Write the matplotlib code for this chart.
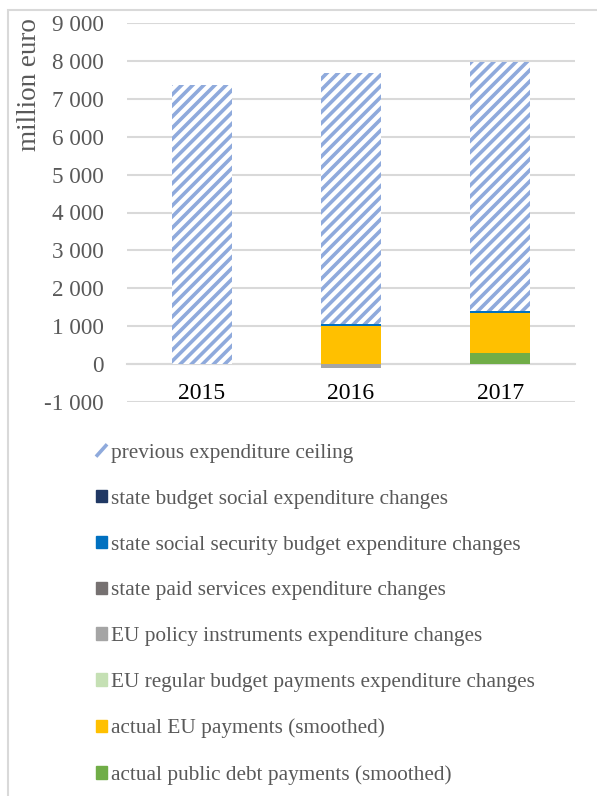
import matplotlib
matplotlib.use("Agg")
import matplotlib.pyplot as plt
from matplotlib.patches import Patch, Rectangle
from matplotlib.lines import Line2D
from matplotlib.legend_handler import HandlerBase
from matplotlib.ticker import FuncFormatter

years = ["2015", "2016", "2017"]

series_names = [
    "previous expenditure ceiling",
    "state budget social expenditure changes",
    "state social security budget expenditure changes",
    "state paid services expenditure changes",
    "EU policy instruments expenditure changes",
    "EU regular budget payments expenditure changes",
    "actual EU payments (smoothed)",
    "actual public debt payments (smoothed)",
]

prev_ceiling = [7360, 6620, 6580]
state_budget_social = [0, 0, 0]
state_social_security = [0, 40, 40]
state_paid_services = [0, 0, 0]
eu_policy_instruments = [0, -100, 0]
eu_regular_budget = [0, 0, 0]
actual_eu_payments = [0, 1010, 1060]
actual_public_debt = [0, 0, 300]

colors = {
    "hatch": "#8FAADC",
    "state_budget_social": "#203864",
    "state_social_security": "#0070C0",
    "state_paid_services": "#767171",
    "eu_policy_instruments": "#A5A5A5",
    "eu_regular_budget": "#C5E0B4",
    "actual_eu_payments": "#FFC000",
    "actual_public_debt": "#70AD47",
}

plt.rcParams["font.family"] = ["Liberation Serif", "DejaVu Serif"]
plt.rcParams["hatch.linewidth"] = 2.6

text_color = "#595959"
grid_color = "#D9D9D9"


class HatchStrokeHandler(HandlerBase):
    """Legend key drawn as a single diagonal stroke of the hatch colour."""

    def create_artists(self, legend, orig_handle, xdescent, ydescent,
                       width, height, fontsize, trans):
        line = Line2D([-xdescent, -xdescent + width], [-ydescent, -ydescent + height],
                      color=orig_handle.get_edgecolor(), linewidth=2.6,
                      solid_capstyle="butt", transform=trans)
        return [line]


fig = plt.figure(figsize=(5.97, 7.96), dpi=100)
W, H = 597, 796
ax = fig.add_axes([127 / W, 1 - 402 / H, 448 / W, 379 / H])

x = list(range(len(years)))
width = 0.4

# Stack order from the bottom: debt, EU payments, budget changes, ceiling
stack = [
    (actual_public_debt, colors["actual_public_debt"]),
    (actual_eu_payments, colors["actual_eu_payments"]),
    (eu_regular_budget, colors["eu_regular_budget"]),
    (state_paid_services, colors["state_paid_services"]),
    (state_budget_social, colors["state_budget_social"]),
    (state_social_security, colors["state_social_security"]),
]
pos_base = [0.0] * len(years)
neg_base = [0.0] * len(years)
for vals, col in stack + [(eu_policy_instruments, colors["eu_policy_instruments"])]:
    bottoms = []
    for i, v in enumerate(vals):
        if v >= 0:
            bottoms.append(pos_base[i])
            pos_base[i] += v
        else:
            bottoms.append(neg_base[i])
            neg_base[i] += v
    ax.bar(x, vals, width, bottom=bottoms, color=col, linewidth=0, zorder=3)

ax.bar(x, prev_ceiling, width, bottom=pos_base, facecolor="white",
       edgecolor=colors["hatch"], hatch="///", linewidth=0, zorder=3)

ax.set_xlim(-0.5, 2.5)
ax.set_ylim(-1000, 9000)
ax.set_yticks(range(-1000, 9001, 1000))
ax.yaxis.set_major_formatter(FuncFormatter(lambda v, p: f"{int(v):,}".replace(",", " ")))
ax.grid(axis="y", color=grid_color, linewidth=1.5, zorder=0)
ax.set_axisbelow(True)

for s in ["top", "right", "left"]:
    ax.spines[s].set_visible(False)
ax.spines["bottom"].set_position(("data", 0))
ax.spines["bottom"].set_color(grid_color)
ax.spines["bottom"].set_linewidth(1.5)

ax.set_xticks(x)
ax.set_xticklabels(years)
ax.tick_params(axis="x", length=0, pad=13.5, labelsize=17, labelcolor="black")
ax.tick_params(axis="y", length=0, pad=17, labelsize=16.7, labelcolor=text_color)

fig.text(30 / W, 1 - 85 / H, "million euro", rotation=90, ha="center", va="center",
         fontsize=19.5, color=text_color)

ceiling_key = Patch(facecolor="white", edgecolor=colors["hatch"], linewidth=0)
handles = [
    ceiling_key,
    Patch(color=colors["state_budget_social"]),
    Patch(color=colors["state_social_security"]),
    Patch(color=colors["state_paid_services"]),
    Patch(color=colors["eu_policy_instruments"]),
    Patch(color=colors["eu_regular_budget"]),
    Patch(color=colors["actual_eu_payments"]),
    Patch(color=colors["actual_public_debt"]),
]
leg = fig.legend(handles, series_names, loc="upper left",
                 bbox_to_anchor=(96 / W, 1 - 444 / H), frameon=False,
                 fontsize=15.3, labelcolor=text_color, handlelength=0.52,
                 handleheight=0.52, handletextpad=0.2, labelspacing=1.26,
                 borderaxespad=0, borderpad=0,
                 handler_map={ceiling_key: HatchStrokeHandler()})

# Chart frame
fig.patches.append(Rectangle((8 / W, -0.01), 1.0, 1 - 10 / H + 0.01,
                             transform=fig.transFigure, fill=False,
                             edgecolor=grid_color, linewidth=1.5))

fig.savefig("out.png", dpi=100)
